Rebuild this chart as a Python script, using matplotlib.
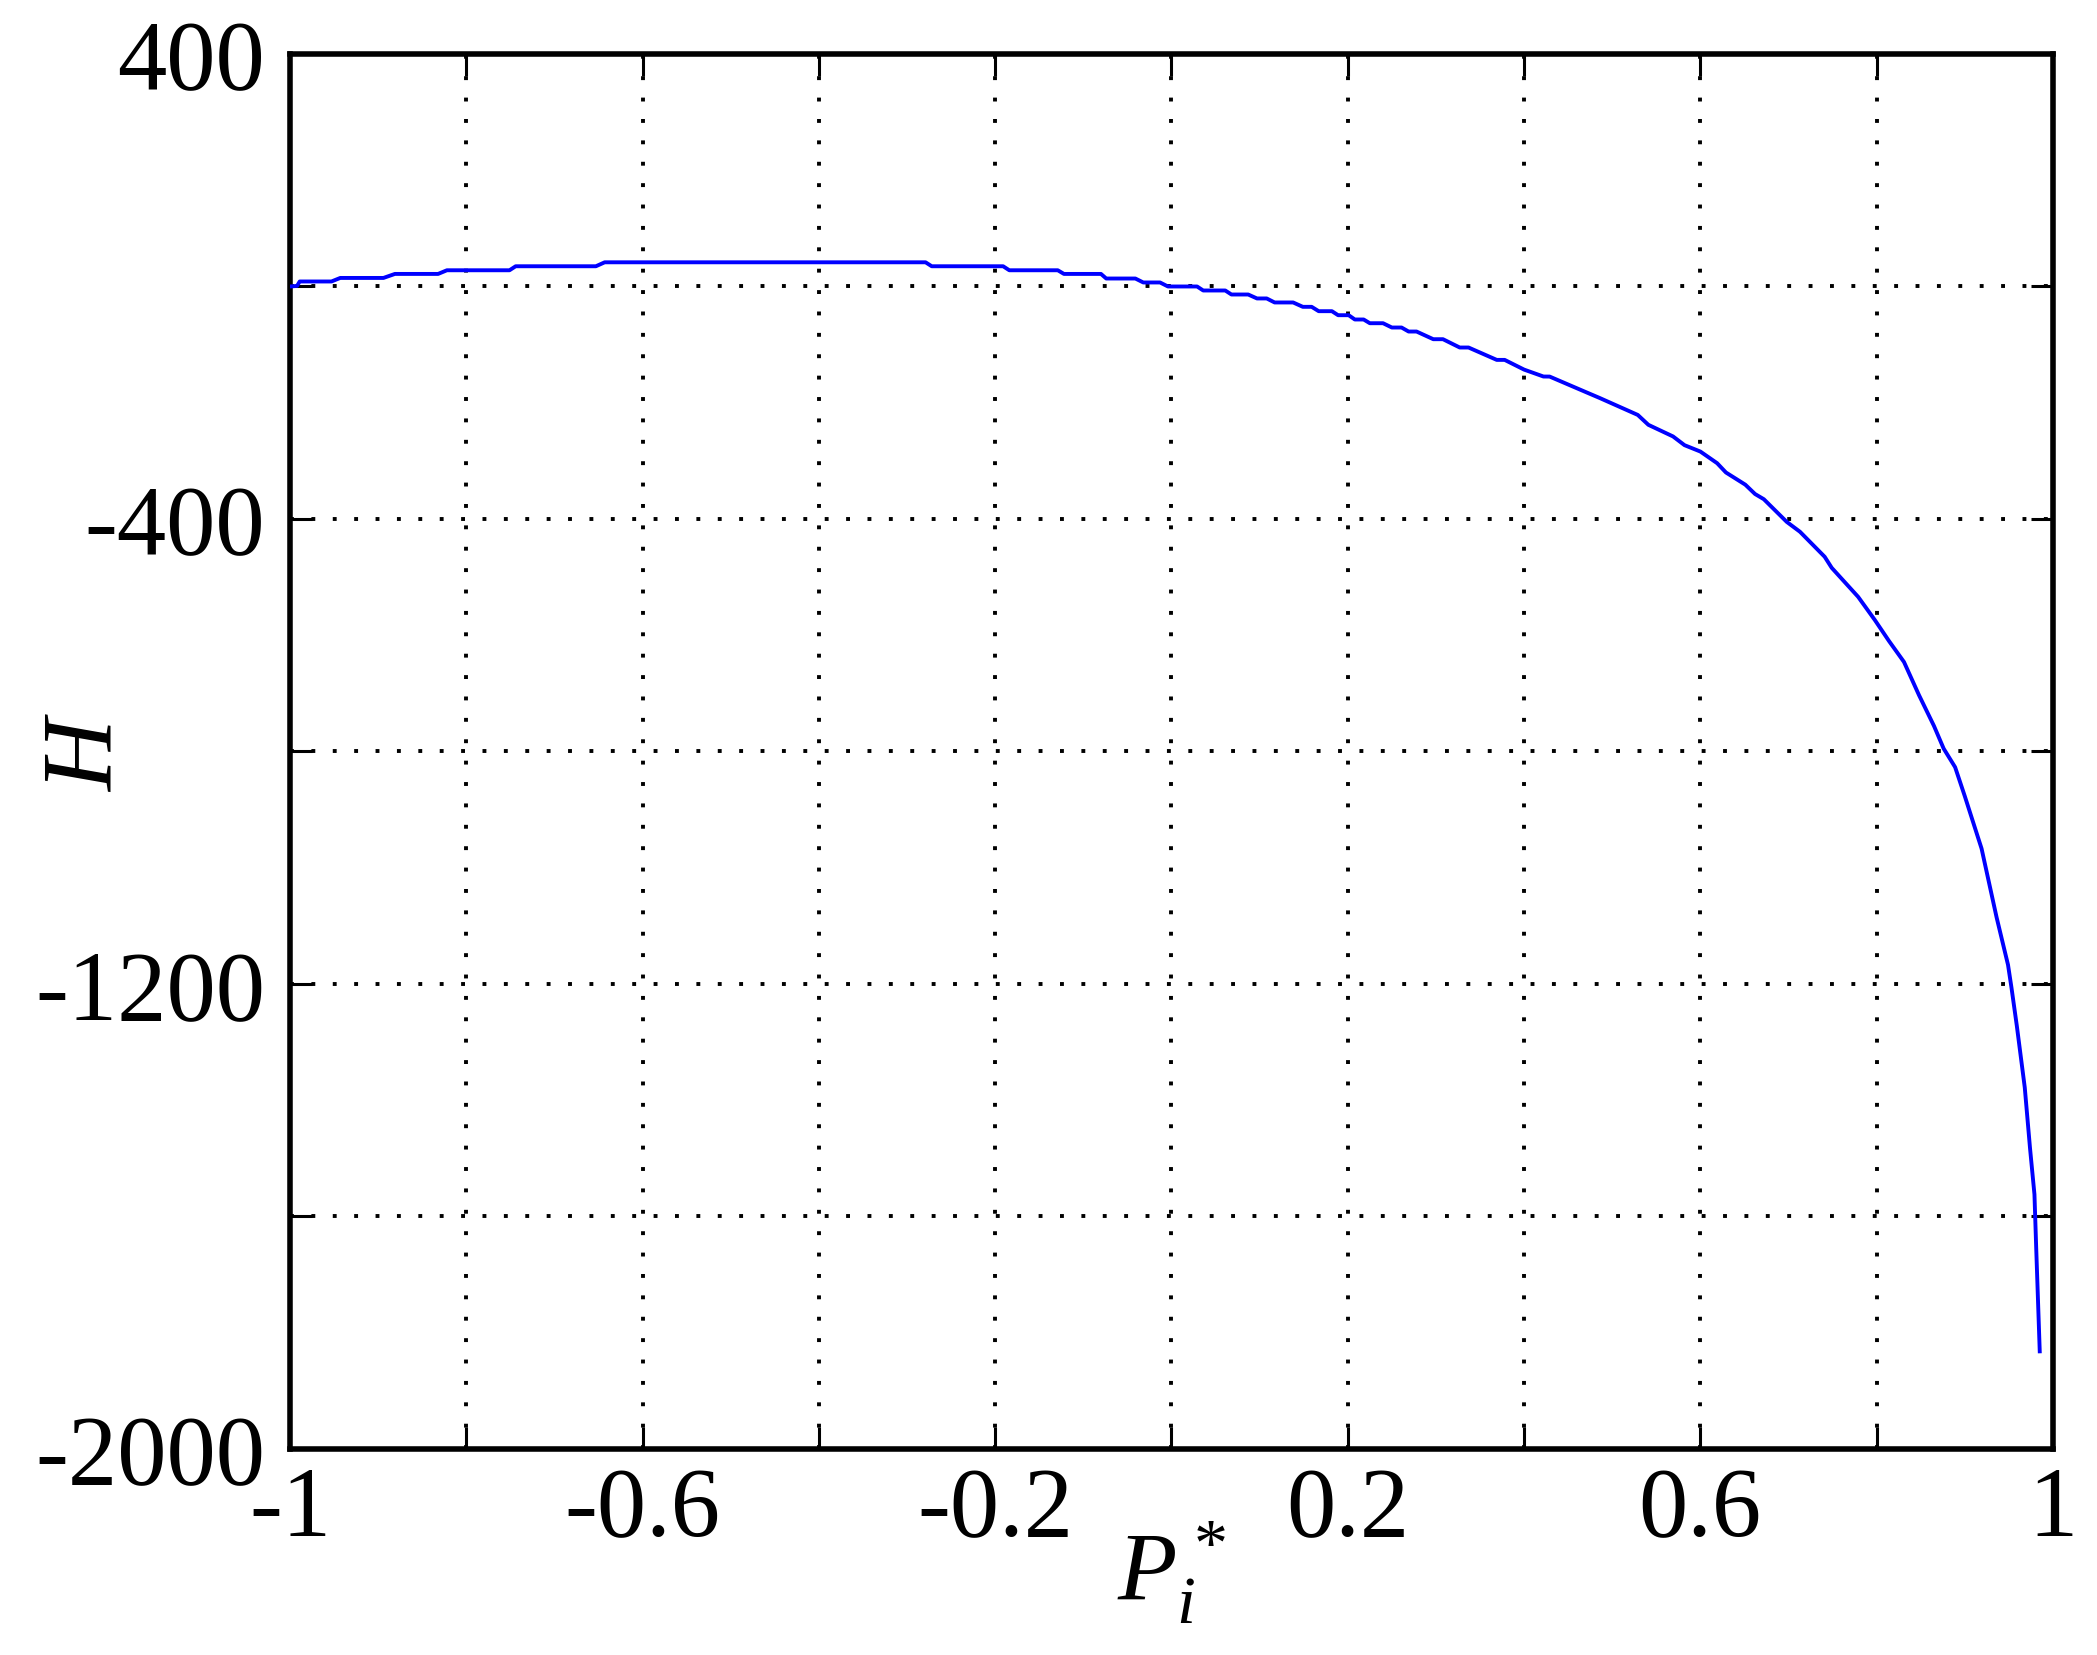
import matplotlib
matplotlib.use("Agg")
import matplotlib.pyplot as plt
import numpy as np

plt.rcParams['font.family'] = ['Liberation Serif', 'DejaVu Serif']
plt.rcParams['mathtext.fontset'] = 'custom'
plt.rcParams['mathtext.rm'] = 'Liberation Serif'
plt.rcParams['mathtext.it'] = 'Liberation Serif:italic'

# data (P_i*, H)
p_star = [-1.000, -0.992, -0.989, -0.953, -0.943, -0.894, -0.881, -0.832, -0.822, -0.751,
          -0.744, -0.653, -0.643, -0.279, -0.272, -0.191, -0.184, -0.129, -0.122, -0.080,
          -0.074, -0.041, -0.032, -0.013, -0.004, 0.029, 0.036, 0.061, 0.068, 0.087,
          0.097, 0.108, 0.117, 0.138, 0.149, 0.159, 0.167, 0.182, 0.189, 0.201,
          0.208, 0.218, 0.225, 0.240, 0.250, 0.261, 0.269, 0.278, 0.297, 0.308,
          0.327, 0.337, 0.369, 0.378, 0.400, 0.422, 0.429, 0.469, 0.486, 0.529,
          0.541, 0.569, 0.582, 0.600, 0.619, 0.629, 0.651, 0.662, 0.672, 0.698,
          0.713, 0.741, 0.749, 0.779, 0.798, 0.814, 0.831, 0.848, 0.865, 0.876,
          0.889, 0.900, 0.919, 0.936, 0.949, 0.953, 0.959, 0.968, 0.974, 0.979,
          0.981, 0.985]
h_vals = [0, 1, 8.6, 8.6, 14.7, 14.7, 21.6, 21.6, 27.9, 27.9,
          34.8, 34.8, 41.6, 41.6, 34.8, 34.8, 27.9, 27.9, 21.6, 21.6,
          13.7, 13.7, 6.9, 6.9, 0, 0, -6.9, -6.9, -13.8, -13.8,
          -20.6, -20.6, -27.5, -27.5, -35, -35, -42.5, -42.5, -49.4, -49.4,
          -56.8, -56.8, -63.2, -63.2, -70.6, -70.6, -77.5, -77.5, -90.7, -90.7,
          -105, -105, -126.3, -126.3, -143, -154.9, -155, -181, -192, -221,
          -238, -258, -273, -284, -304, -320, -341, -357, -366, -405,
          -422, -465, -484, -534, -574, -610, -646, -703, -756, -795,
          -827, -877, -967, -1085, -1167, -1207, -1272, -1378, -1483, -1562,
          -1655, -1832]

x_ticks = [-1, -0.8, -0.6, -0.4, -0.2, 0, 0.2, 0.4, 0.6, 0.8, 1]
x_labels = ['-1', '', '-0.6', '', '-0.2', '', '0.2', '', '0.6', '', '1']
y_ticks = [-2000, -1600, -1200, -800, -400, 0, 400]
y_labels = ['-2000', '', '-1200', '', '-400', '', '400']

fig = plt.figure(figsize=(20.97, 16.56), dpi=100)
ax = fig.add_axes([0.1383, 0.1244, 0.9790 - 0.1383, 0.9668 - 0.1244])

ax.plot(p_star, h_vals, color=(0, 0, 1), lw=2.8, zorder=3)

ax.set_xlim(-1, 1)
ax.set_ylim(-2000, 400)
ax.set_xticks(x_ticks)
ax.set_xticklabels(x_labels)
ax.set_yticks(y_ticks)
ax.set_yticklabels(y_labels)

ax.grid(True, color='black', linestyle=(0, (1, 4.5)), linewidth=2.8)
ax.tick_params(direction='in', length=16, width=2.2, labelsize=71,
               top=True, right=True, pad=12)
ax.tick_params(axis='y', pad=18)
for s in ax.spines.values():
    s.set_linewidth(4)

ax.set_xlabel(r'$P_i^*$', fontsize=70)
ax.xaxis.set_label_coords(0.5, -0.05)
ax.set_ylabel(r'$H$', fontsize=72)
ax.yaxis.set_label_coords(-0.09, 0.5)

fig.savefig('out.png', dpi=100)
